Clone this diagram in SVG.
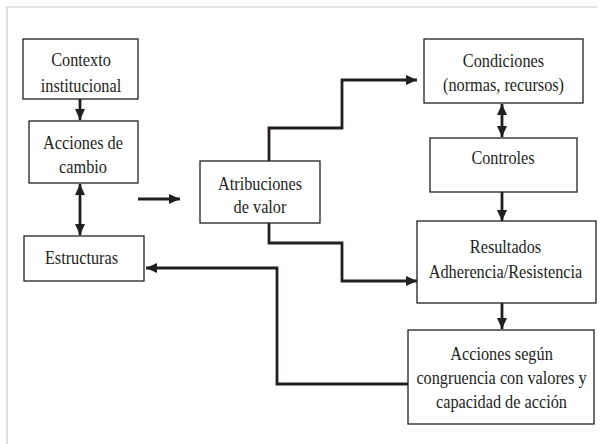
<svg xmlns="http://www.w3.org/2000/svg" width="600" height="444" viewBox="0 0 600 444">
<style>
.box{fill:#fff;stroke:#231f20;stroke-width:1.3}
.t{font-family:'Liberation Serif','Times New Roman',serif;font-size:18.5px;fill:#231f20;text-anchor:middle}
.c{fill:none;stroke:#231f20;stroke-width:2.8}
</style>
<defs>
<marker id="ah" markerUnits="userSpaceOnUse" markerWidth="12" markerHeight="12" viewBox="0 0 12 12" refX="11" refY="6" orient="auto-start-reverse">
<path d="M0,1 L11,6 L0,11 Z" fill="#231f20"/>
</marker>
</defs>
<rect width="600" height="444" fill="#fff"/>
<path d="M7 444 V7 H597" fill="none" stroke="#c8c8c8" stroke-width="1.2"/>
<g id="connectors">
<path class="c" d="M80 99 V120" marker-end="url(#ah)"/>
<path class="c" d="M80 184 V235" marker-start="url(#ah)" marker-end="url(#ah)"/>
<path class="c" d="M138 199 H180" marker-end="url(#ah)"/>
<path class="c" d="M269 161 V128 H342 V80 H417" marker-end="url(#ah)"/>
<path class="c" d="M269 223 V243 H342 V281 H417" marker-end="url(#ah)"/>
<path class="c" d="M502 104 V137" marker-start="url(#ah)" marker-end="url(#ah)"/>
<path class="c" d="M502 192 V221" marker-end="url(#ah)"/>
<path class="c" d="M502 303 V329" marker-end="url(#ah)"/>
<path class="c" d="M408 384 H277 V268 H146" marker-end="url(#ah)"/>
</g>
<g id="contexto">
<rect class="box" x="23" y="39" width="115" height="60"/>
<g transform="translate(81 0) scale(0.88 1)"><text class="t" x="0" y="66">Contexto</text><text class="t" x="0" y="92">institucional</text></g>
</g>
<g id="acciones-cambio">
<rect class="box" x="29" y="121" width="109" height="62"/>
<g transform="translate(83 0) scale(0.88 1)"><text class="t" x="0" y="149">Acciones de</text><text class="t" x="0" y="173">cambio</text></g>
</g>
<g id="estructuras">
<rect class="box" x="24" y="236" width="120" height="45"/>
<g transform="translate(81.5 0) scale(0.88 1)"><text class="t" x="0" y="264">Estructuras</text></g>
</g>
<g id="atribuciones">
<rect class="box" x="200" y="161" width="120" height="62"/>
<g transform="translate(260 0) scale(0.88 1)"><text class="t" x="0" y="190">Atribuciones</text><text class="t" x="0" y="213">de valor</text></g>
</g>
<g id="condiciones">
<rect class="box" x="424" y="39" width="159" height="64"/>
<g transform="translate(503.5 0) scale(0.88 1)"><text class="t" x="0" y="67">Condiciones</text><text class="t" x="0" y="91">(normas, recursos)</text></g>
</g>
<g id="controles">
<rect class="box" x="430" y="138" width="147" height="54"/>
<g transform="translate(503 0) scale(0.88 1)"><text class="t" x="0" y="164">Controles</text></g>
</g>
<g id="resultados">
<rect class="box" x="417" y="221" width="179" height="82"/>
<g transform="translate(505.5 0) scale(0.88 1)"><text class="t" x="0" y="253">Resultados</text><text class="t" x="0" y="278">Adherencia/Resistencia</text></g>
</g>
<g id="acciones-segun">
<rect class="box" x="408" y="330" width="186" height="94"/>
<g transform="translate(501.5 0) scale(0.88 1)"><text class="t" x="0" y="360">Acciones según</text><text class="t" x="0" y="384">congruencia con valores y</text><text class="t" x="0" y="408">capacidad de acción</text></g>
</g>
</svg>
